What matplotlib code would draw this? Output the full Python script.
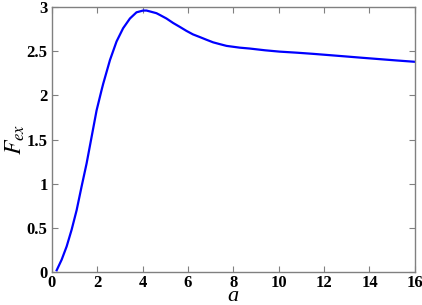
import numpy as np
import matplotlib
matplotlib.use("Agg")
import matplotlib.pyplot as plt

# values
a_vals = [0.21, 0.43, 0.65, 0.87, 1.09, 1.31, 1.53, 1.75, 1.97, 2.19, 2.26,
          2.56, 2.85, 3.14, 3.44, 3.73, 4.02, 4.17, 4.32, 4.61, 4.76, 5.05,
          5.34, 5.64, 5.93, 6.22, 6.52, 6.81, 7.11, 7.40, 7.70, 8.28, 8.72,
          9.40, 10.04, 10.80, 11.51, 12.25, 12.98, 13.70, 14.45, 15.20, 16.0]
F_vals = [0.02, 0.14, 0.29, 0.48, 0.70, 0.97, 1.23, 1.53, 1.83, 2.06, 2.13,
          2.40, 2.61, 2.76, 2.87, 2.94, 2.96, 2.96, 2.95, 2.93, 2.91, 2.87,
          2.82, 2.775, 2.73, 2.69, 2.66, 2.63, 2.60, 2.58, 2.56, 2.54, 2.53,
          2.51, 2.495, 2.483, 2.47, 2.455, 2.44, 2.425, 2.41, 2.395, 2.38]
x_ticks = [0, 2, 4, 6, 8, 10, 12, 14, 16]
y_ticks = [0, 0.5, 1, 1.5, 2, 2.5, 3]

plt.rcParams['font.family'] = ['Liberation Serif', 'DejaVu Serif']
plt.rcParams['mathtext.fontset'] = 'stix'

fig = plt.figure(figsize=(4.22, 3.05), dpi=100)
ax = fig.add_axes([0.123, 0.108, 0.860, 0.869])
ax.plot(a_vals, F_vals, color='#0000ff', lw=1.6, solid_joinstyle='round')

ax.set_xlim(0, 16)
ax.set_ylim(0, 3)
ax.set_xticks(x_ticks)
ax.set_xticklabels([str(t) for t in x_ticks])
ax.set_yticks(y_ticks)
ax.set_yticklabels(['0', '0.5', '1', '1.5', '2', '2.5', '3'])
ax.tick_params(direction='in', top=True, right=True, length=4, color='#808080',
               labelsize=12)
ax.tick_params(axis='x', pad=2)
ax.tick_params(axis='y', pad=3)
for lab in ax.get_xticklabels() + ax.get_yticklabels():
    lab.set_fontweight('bold')
for s in ax.spines.values():
    s.set_color('#808080')
    s.set_linewidth(1.0)

ax.set_xlabel('a', fontsize=16, fontstyle='italic', va='baseline')
ax.xaxis.set_label_coords(0.5, -0.108)
ax.set_ylabel('$F_{ex}$', fontsize=17, labelpad=0)

fig.savefig('out.png', dpi=100)
